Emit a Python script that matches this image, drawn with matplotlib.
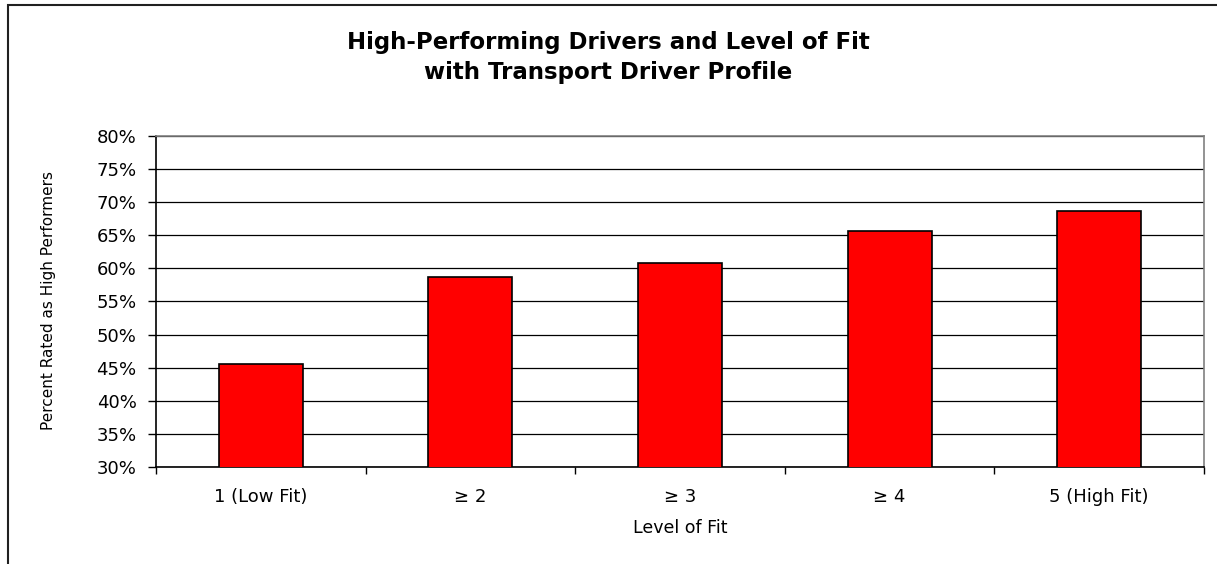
import matplotlib.pyplot as plt
import matplotlib.patches as mpatches
import numpy as np

categories = ['1 (Low Fit)', '\u2265 2', '\u2265 3', '\u2265 4', '5 (High Fit)']
values = [45.5, 58.75, 60.9, 65.6, 68.7]
yticks = [30, 35, 40, 45, 50, 55, 60, 65, 70, 75, 80]

fig = plt.figure(figsize=(12.17, 5.64), dpi=100)
ax = fig.add_axes([156/1217, 1-466.7/564, (1204-156)/1217, 330.4/564])

x = np.arange(len(categories))
ax.bar(x, values, width=0.4, color='#ff0000', edgecolor='black', linewidth=1.2, zorder=3)

ax.set_ylim(30, 80)
ax.set_xlim(-0.5, len(categories) - 0.5)
ax.set_yticks(yticks)
ax.set_yticklabels(['%d%%' % v for v in yticks])
ax.yaxis.grid(True, color='black', linewidth=0.9, zorder=0)

# ticks at category boundaries, labels at centres
ax.set_xticks(np.arange(-0.5, len(categories)), minor=False)
ax.set_xticklabels([''] * (len(categories) + 1))
ax.set_xticks(x, minor=True)
ax.set_xticklabels(categories, minor=True)
ax.tick_params(axis='x', which='minor', length=0, pad=15, labelsize=13)
ax.tick_params(axis='x', which='major', length=5, width=1, direction='out')
ax.tick_params(axis='y', length=6, width=1, direction='out', pad=8, labelsize=13)

ax.spines['left'].set_color('black')
ax.spines['bottom'].set_color('black')
ax.spines['top'].set_color('#808080')
ax.spines['right'].set_color('#808080')
for s in ax.spines.values():
    s.set_linewidth(1.2)

ax.set_xlabel('Level of Fit', fontsize=12.5, labelpad=10)
fig.text(49/1217, 1-301/564, 'Percent Rated as High Performers', rotation=90,
         ha='center', va='center', fontsize=11,
         family=['Liberation Sans Narrow', 'DejaVu Sans'])

fig.text(0.5, 1-43/564, 'High-Performing Drivers and Level of Fit', ha='center', va='center',
         fontsize=16.5, fontweight='bold')
fig.text(0.5, 1-73/564, 'with Transport Driver Profile', ha='center', va='center',
         fontsize=16.5, fontweight='bold')

# outer chart border
fig.patches.append(mpatches.Rectangle((8/1217, -0.05), 1.2, 1-5/564+0.05,
                                      transform=fig.transFigure, fill=False,
                                      edgecolor='#202020', linewidth=1.5))

plt.savefig('out.png', dpi=100)
